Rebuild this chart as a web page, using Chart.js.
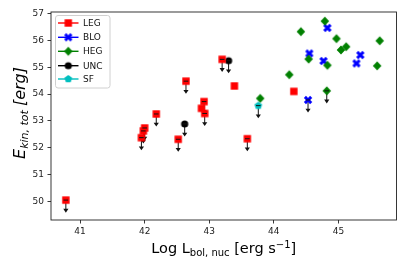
<!DOCTYPE html>
<html>
<head>
<meta charset="utf-8">
<script src="https://cdn.jsdelivr.net/npm/chart.js@4/dist/chart.umd.min.js"></script>
<style>
html,body{margin:0;padding:0;background:#fff}
canvas{display:block}
</style>
</head>
<body>
<canvas id="c" width="407" height="271"></canvas>
<script>
const xTicks = [41, 42, 43, 44, 45]
const yTicks = [50, 51, 52, 53, 54, 55, 56, 57]

// 1 = upper limit (arrow down)
const legX = [40.78, 41.95, 42.00, 41.98, 42.18, 42.52, 42.64, 42.92, 42.88, 42.93, 43.20, 43.39, 43.59, 44.31]
const legY = [50.06, 52.38, 52.74, 52.63, 53.26, 52.32, 54.48, 53.72, 53.47, 53.28, 55.29, 54.30, 52.34, 54.10]
const legLim = [1, 1, 1, 1, 1, 1, 1, 1, 0, 1, 1, 0, 1, 0]

const bloX = [44.83, 44.55, 44.77, 45.34, 45.28, 44.53]
const bloY = [56.46, 55.51, 55.23, 55.45, 55.14, 53.78]
const bloLim = [0, 0, 0, 0, 0, 1]

const hegX = [44.79, 44.42, 44.97, 45.64, 45.12, 45.04, 44.54, 44.83, 45.60, 44.24, 44.82, 43.79]
const hegY = [56.71, 56.32, 56.06, 55.98, 55.76, 55.64, 55.30, 55.07, 55.05, 54.72, 54.12, 53.84]
const hegLim = [0, 0, 0, 0, 0, 0, 0, 0, 0, 0, 1, 0]

const uncX = [42.62, 43.30]
const uncY = [52.89, 55.24]
const uncLim = [1, 1]

const sfX = [43.76]
const sfY = [53.57]
const sfLim = [1]

const limitLen = 0.4

function makeMarker(shape, color){
    const c = document.createElement('canvas')
    c.width = 12
    c.height = 12
    const g = c.getContext('2d')
    g.fillStyle = color
    g.translate(6, 6)
    g.beginPath()
    if(shape === 'square'){
        g.rect(-3.7, -3.7, 7.4, 7.4)
    } else if(shape === 'diamond'){
        g.moveTo(0, -4.5); g.lineTo(4.3, 0); g.lineTo(0, 4.5); g.lineTo(-4.3, 0); g.closePath()
    } else if(shape === 'circle'){
        g.arc(0, 0, 3.6, 0, Math.PI * 2)
    } else if(shape === 'x'){
        g.rotate(Math.PI / 4)
        const a = 4.4, b = 1.5
        const pts = [[-b,a],[b,a],[b,b],[a,b],[a,-b],[b,-b],[b,-a],[-b,-a],[-b,-b],[-a,-b],[-a,b],[-b,b]]
        pts.forEach((p, i) => i ? g.lineTo(p[0], p[1]) : g.moveTo(p[0], p[1]))
        g.closePath()
    } else if(shape === 'pentagon'){
        for(let k = 0; k < 5; k++){
            const t = -Math.PI / 2 + k * 2 * Math.PI / 5
            const px = 4.1 * Math.cos(t), py = 4.1 * Math.sin(t)
            k ? g.lineTo(px, py) : g.moveTo(px, py)
        }
        g.closePath()
    }
    g.fill()
    return c
}

const series = [
    {label: 'LEG', xs: legX, ys: legY, lims: legLim, color: '#ff0000', shape: 'square', order: 1},
    {label: 'BLO', xs: bloX, ys: bloY, lims: bloLim, color: '#0000ff', shape: 'x', order: 3},
    {label: 'HEG', xs: hegX, ys: hegY, lims: hegLim, color: '#008000', shape: 'diamond', order: 2},
    {label: 'UNC', xs: uncX, ys: uncY, lims: uncLim, color: '#000000', shape: 'circle', order: 4},
    {label: 'SF', xs: sfX, ys: sfY, lims: sfLim, color: '#00bfbf', shape: 'pentagon', order: 0}
]
series.forEach(s => { s.marker = makeMarker(s.shape, s.color) })

function drawLimits(chart, caps){
    const ctx = chart.ctx
    const xs = chart.scales.x, ys = chart.scales.y
    ctx.save()
    ctx.strokeStyle = '#111'
    ctx.fillStyle = '#111'
    ctx.lineWidth = 1
    series.forEach(s => {
        s.xs.forEach((xv, i) => {
            if(!s.lims[i]) return
            const px = xs.getPixelForValue(xv)
            const py = ys.getPixelForValue(s.ys[i])
            const pe = ys.getPixelForValue(s.ys[i] - limitLen)
            if(caps){
                ctx.beginPath()
                ctx.moveTo(px - 2.3, py)
                ctx.lineTo(px + 2.3, py)
                ctx.stroke()
            } else {
                ctx.beginPath()
                ctx.moveTo(px, py)
                ctx.lineTo(px, pe)
                ctx.stroke()
                ctx.beginPath()
                ctx.moveTo(px - 2.6, pe - 2)
                ctx.lineTo(px + 2.6, pe - 2)
                ctx.lineTo(px, pe + 1.8)
                ctx.closePath()
                ctx.fill()
            }
        })
    })
    ctx.restore()
}

function drawRich(ctx, parts, cx, cy, rot){
    ctx.save()
    ctx.translate(cx, cy)
    ctx.rotate(rot)
    let w = 0
    parts.forEach(p => { ctx.font = p.font; w += ctx.measureText(p.t).width + (p.gap || 0) })
    let x = -w / 2
    ctx.textAlign = 'left'
    ctx.textBaseline = 'alphabetic'
    ctx.fillStyle = '#000'
    parts.forEach(p => {
        ctx.font = p.font
        ctx.fillText(p.t, x, p.dy || 0)
        x += ctx.measureText(p.t).width + (p.gap || 0)
    })
    ctx.restore()
}

const decor = {
    id: 'decor',
    beforeDatasetsDraw(chart){ drawLimits(chart, false) },
    afterDatasetsDraw(chart){
        drawLimits(chart, true)
        const ctx = chart.ctx
        const a = chart.chartArea
        ctx.save()
        ctx.strokeStyle = '#222'
        ctx.lineWidth = 0.9
        ctx.strokeRect(a.left, a.top, a.right - a.left, a.bottom - a.top)

        // legend
        ctx.fillStyle = 'rgba(255,255,255,0.85)'
        ctx.strokeStyle = '#d0d0d0'
        ctx.lineWidth = 1
        ctx.beginPath()
        ctx.roundRect(55.5, 15.5, 54.5, 72.5, 2.5)
        ctx.fill()
        ctx.stroke()
        const rows = [23, 37.3, 51.3, 65.7, 79]
        ctx.font = '9px "DejaVu Sans"'
        ctx.textBaseline = 'middle'
        series.forEach((s, i) => {
            const y = rows[i]
            ctx.strokeStyle = s.color
            ctx.lineWidth = 1.4
            ctx.beginPath()
            ctx.moveTo(58, y)
            ctx.lineTo(78.5, y)
            ctx.stroke()
            ctx.drawImage(s.marker, 68.3 - 6, y - 6)
            ctx.fillStyle = '#111'
            ctx.fillText(s.label, 83, y + 0.5)
        })
        ctx.restore()

        drawRich(ctx, [
            {t: 'Log L', font: '14.5px "DejaVu Sans"'},
            {t: 'bol, nuc', font: '10px "DejaVu Sans"', dy: 3},
            {t: ' [erg s', font: '14.5px "DejaVu Sans"'},
            {t: '\u22121', font: '10px "DejaVu Sans"', dy: -5.5},
            {t: ']', font: '14.5px "DejaVu Sans"'}
        ], (a.left + a.right) / 2, 253, 0)
        drawRich(ctx, [
            {t: 'E', font: 'italic 16px "DejaVu Sans"'},
            {t: 'kin, tot', font: 'italic 11px "DejaVu Sans"', dy: 3.5, gap: 4},
            {t: '[erg]', font: 'italic 16px "DejaVu Sans"'}
        ], 24.5, 113, -Math.PI / 2)
    }
}

const tickFont = {family: 'DejaVu Sans', size: 9}
const gridOpts = {drawOnChartArea: false, drawTicks: true, tickLength: 3.5, color: '#222', lineWidth: 0.9}

new Chart(document.getElementById('c'), {
    type: 'scatter',
    data: {
        datasets: series.map(s => ({
            label: s.label,
            data: s.xs.map((xv, i) => ({x: xv, y: s.ys[i]})),
            pointStyle: s.marker,
            pointRadius: 5,
            backgroundColor: s.color,
            borderColor: s.color,
            order: s.order
        }))
    },
    options: {
        responsive: false,
        animation: false,
        layout: {padding: {left: 0, top: 12, right: 10.5, bottom: 0}},
        plugins: {legend: {display: false}, tooltip: {enabled: false}},
        scales: {
            x: {
                type: 'linear', min: 40.55, max: 45.9,
                afterBuildTicks: s => { s.ticks = xTicks.map(v => ({value: v})) },
                afterFit: s => { s.height = 51 },
                ticks: {font: tickFont, color: '#222', padding: 3, maxRotation: 0, callback: v => String(v)},
                grid: gridOpts,
                border: {display: false}
            },
            y: {
                type: 'linear', min: 49.32, max: 57.05,
                afterBuildTicks: s => { s.ticks = yTicks.map(v => ({value: v})) },
                afterFit: s => { s.width = 51 },
                ticks: {font: tickFont, color: '#222', padding: 3.5, callback: v => String(v)},
                grid: gridOpts,
                border: {display: false}
            }
        }
    },
    plugins: [decor]
})
</script>
</body>
</html>
